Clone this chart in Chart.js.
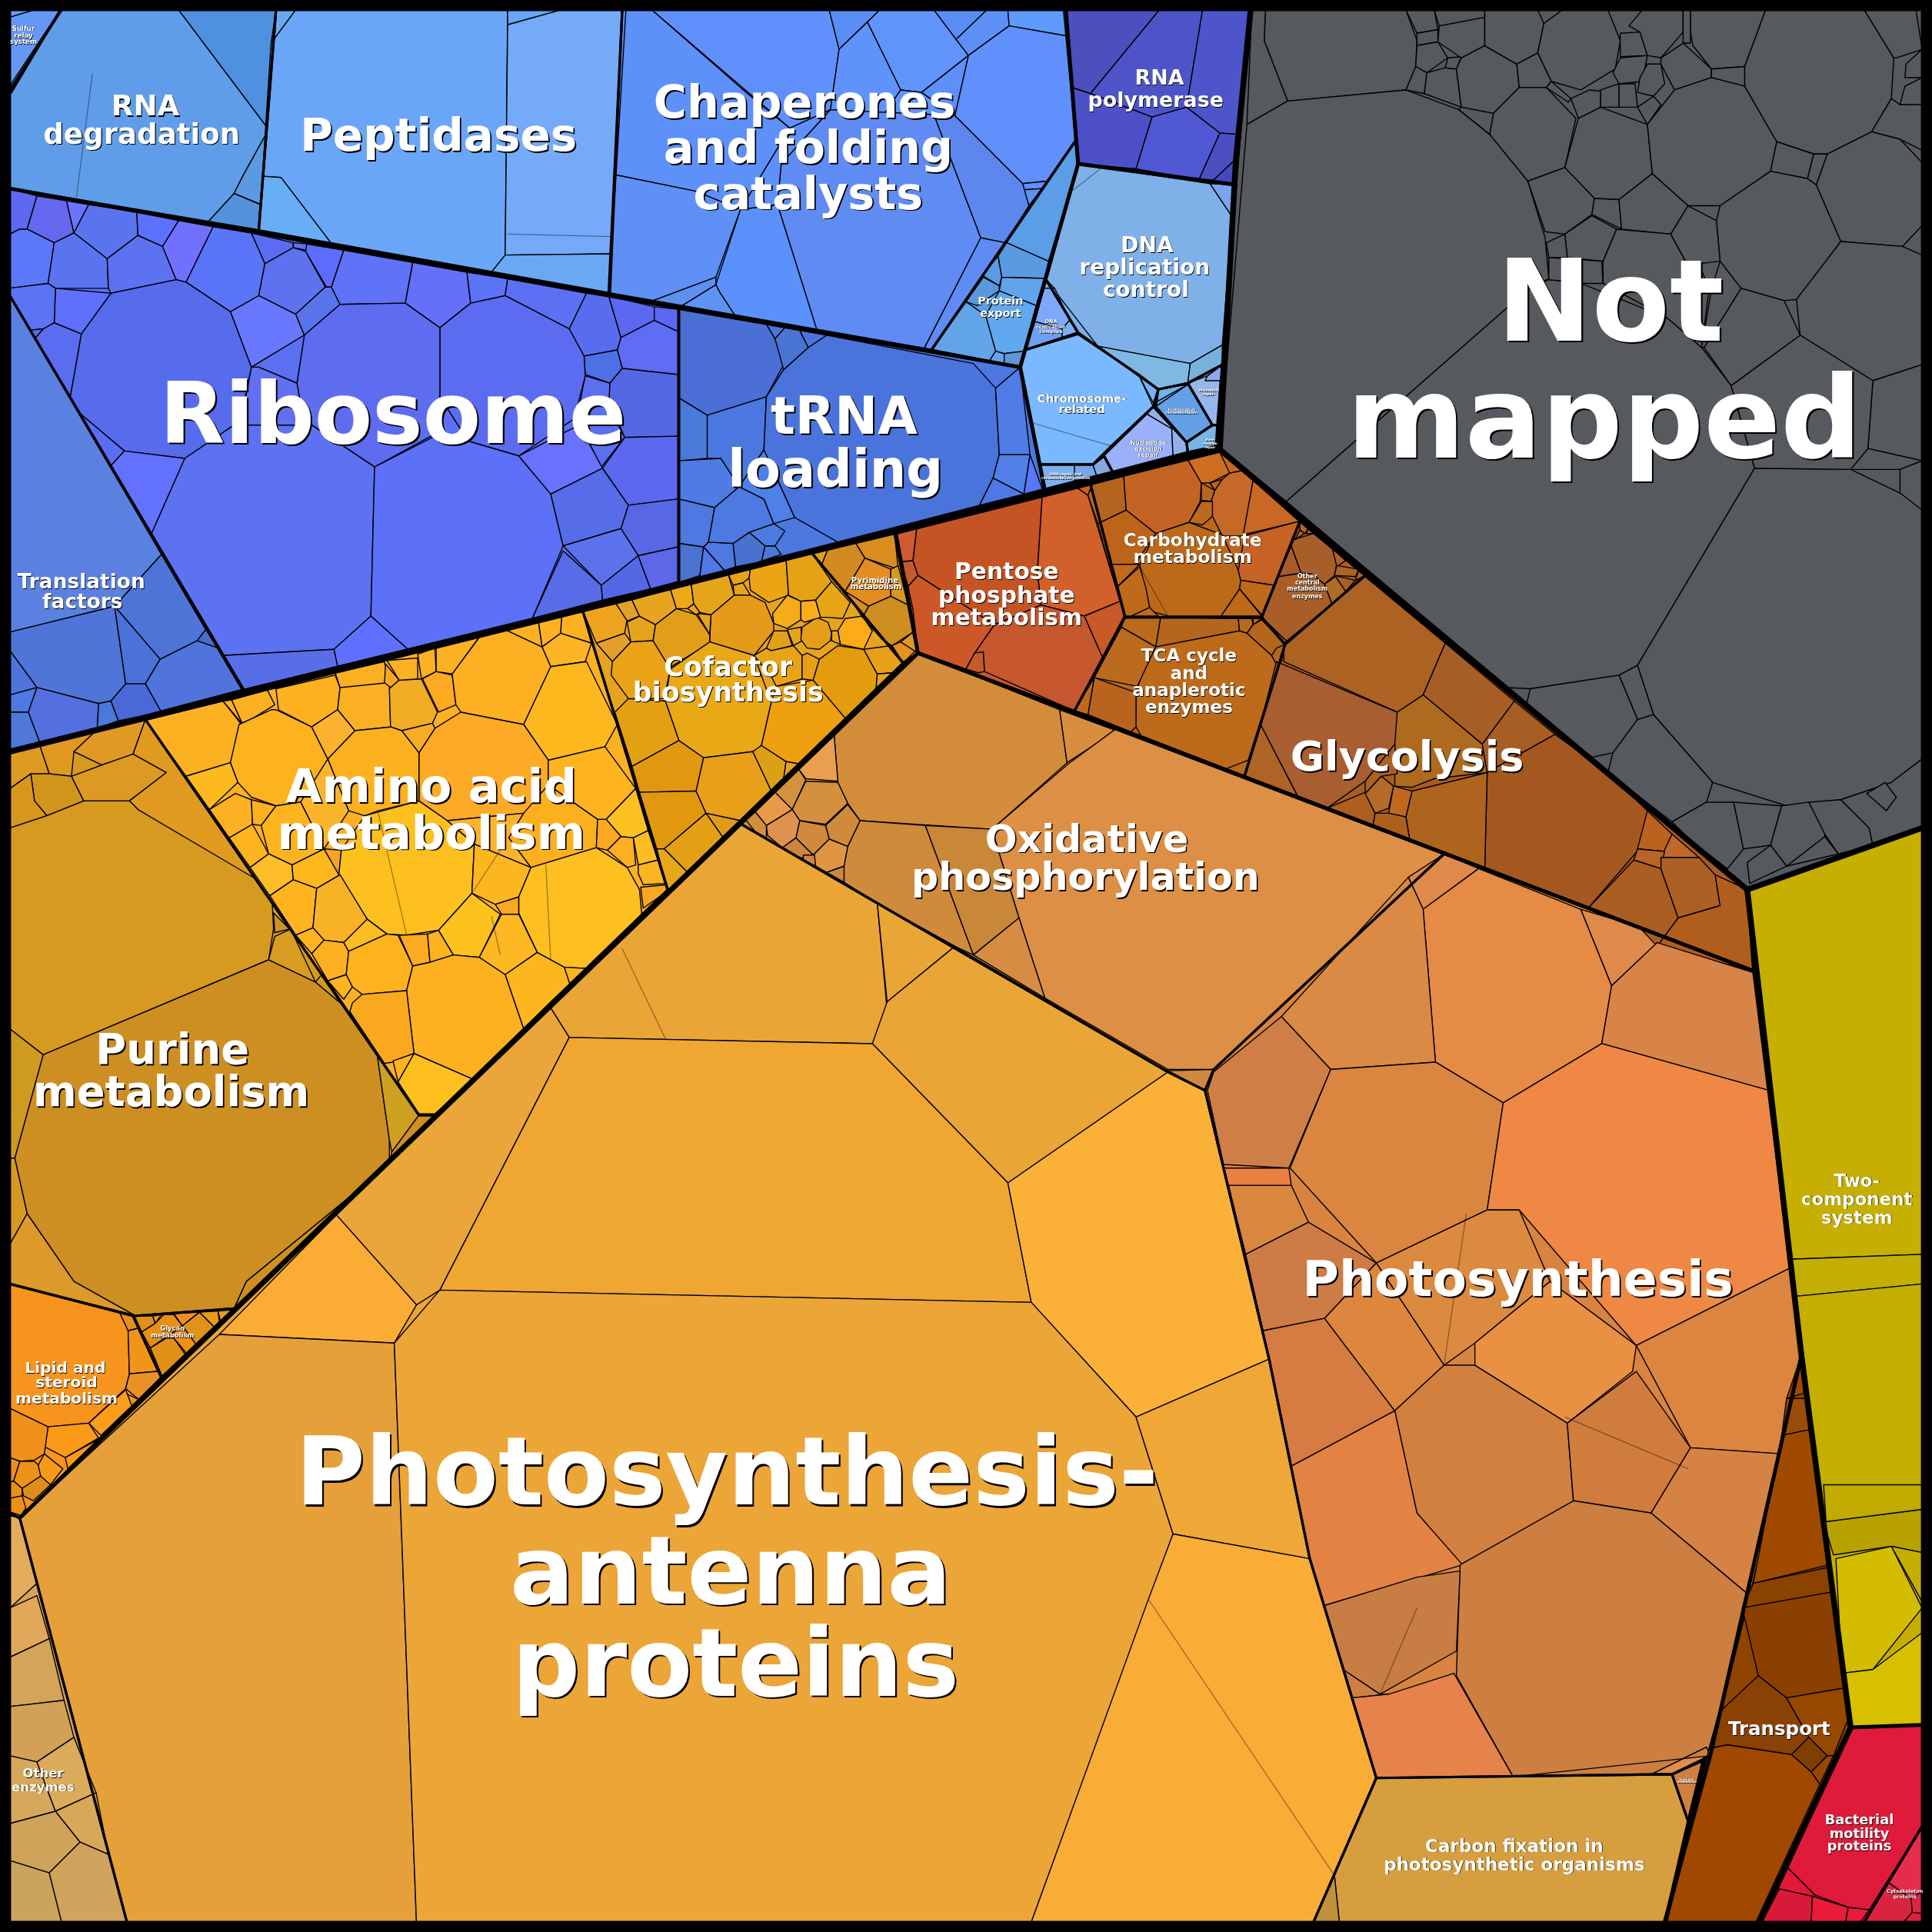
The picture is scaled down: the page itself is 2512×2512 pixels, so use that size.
<!DOCTYPE html>
<html>
<head>
<meta charset="utf-8">
<title>Proteomap</title>
<script src="https://cdn.jsdelivr.net/npm/chart.js@4"></script>
<style>
html, body { margin: 0; padding: 0; background: #000; }
canvas { display: block; }
</style>
</head>
<body>
<canvas id="chart" width="2512" height="2512"></canvas>
<script>
// Cell outlines as x,y runs (picture is 1568 units wide on these axes)
const notMappedCells = [
  [1027,8,1141,8,1150,33,1149,54,1141,73,1045,82,1026,33],[1016,8,1027,8,1026,33,1045,82,1012,101],
  [1012,101,1045,82,1141,73,1184,89,1209,109,1240,147,1254,193,1257,226,1240,235,1044,407,990,364],
  [1044,407,1240,235,1257,227,1283,230,1353,258,1381,282,1405,313,1424,380,1329,540,1314,548,1242,559,1223,558],
  [1424,380,1502,381,1550,404,1560,414,1560,616,1535,635,1494,649,1450,654,1390,635,1342,580,1329,540],
  [1314,548,1329,540,1342,580,1329,584],[1242,559,1314,548,1329,584,1309,611,1290,615,1239,571],
  [1329,584,1342,580,1390,635,1385,651,1357,667,1305,627,1309,611],[1357,667,1385,651,1407,651,1415,689,1402,705,1372,682],
  [1407,651,1446,654,1437,686,1415,689],[1446,654,1468,651,1481,672,1481,679,1450,703,1437,686],[1418,700,1437,686,1450,703,1420,717],
  [1468,651,1494,649,1517,672,1520,686,1492,693,1481,677],[1450,703,1481,679,1492,693],[1494,649,1535,635,1560,616,1560,672,1520,686,1517,672],
  [1515,644,1530,635,1539,647,1531,658],[1141,8,1164,8,1167,24,1150,27],[1150,27,1167,24,1167,34,1150,37],
  [1150,37,1167,34,1175,47,1158,59,1149,54],[1149,54,1158,59,1156,76,1141,73],[1158,59,1173,55,1182,56,1186,87,1156,76],
  [1175,47,1186,46,1182,56,1173,55],[1168,21,1205,14,1205,37,1186,47,1167,34],[1164,8,1205,8,1205,14,1168,21],
  [1205,37,1231,52,1233,71,1212,92,1186,87,1182,56,1186,47],[1205,8,1248,8,1253,19,1248,43,1231,52,1205,37],
  [1253,19,1268,8,1305,8,1315,33,1311,56,1283,73,1259,66,1248,43],[1248,43,1259,66,1255,71,1233,71,1231,52],
  [1233,71,1255,71,1279,96,1270,136,1240,147,1209,109,1212,92],[1212,92,1209,109,1184,89,1186,87],[1255,71,1259,66,1275,80,1273,83],
  [1281,96,1299,87,1337,101,1341,141,1314,162,1294,161,1270,136],[1275,80,1290,73,1299,74,1299,87,1281,96],[1299,73,1314,68,1314,87,1299,87],
  [1314,68,1327,68,1329,87,1314,87],[1329,87,1342,78,1348,85,1337,101],[1315,47,1337,45,1333,66,1314,68,1309,59],
  [1337,52,1348,52,1351,68,1342,78,1329,75,1331,63],[1315,27,1331,26,1337,45,1315,46],[1322,21,1333,8,1366,8,1366,26,1348,47,1337,45,1331,26],
  [1348,47,1366,35,1389,56,1389,63,1359,73,1348,52],[1372,26,1372,8,1433,8,1416,54,1389,56,1374,37],[1366,8,1372,8,1372,35,1366,35],
  [1389,56,1416,54,1416,70,1389,63],[1337,101,1359,73,1389,63,1416,70,1442,115,1437,139,1396,167,1370,167,1341,141],
  [1433,8,1513,8,1537,47,1535,80,1519,107,1483,125,1472,125,1442,115,1416,70,1416,54],[1513,8,1555,8,1560,40,1539,47,1537,47],
  [1547,52,1560,40,1560,63,1546,63],[1546,70,1560,63,1560,85,1542,85],[1535,80,1542,85,1560,85,1560,122,1542,113,1519,107],
  [1519,107,1542,113,1560,132,1560,183,1544,200,1494,196,1474,150,1483,125],[1442,115,1472,125,1467,145,1437,139],[1472,125,1483,125,1474,150,1467,145],
  [1396,167,1437,139,1467,145,1474,150,1494,196,1459,243,1448,244,1413,234,1396,212,1393,179],
  [1494,196,1544,200,1560,207,1560,296,1520,309,1461,272,1458,243],[1520,309,1560,296,1560,374,1516,364],[1516,364,1560,374,1542,381,1502,381],
  [1542,381,1560,374,1560,414,1542,400],[1405,313,1461,272,1520,309,1516,364,1502,381,1424,380],[1383,282,1413,234,1448,244,1461,272,1405,313],
  [1240,147,1270,136,1294,161,1292,174,1270,190,1254,188],[1294,161,1314,162,1316,186,1292,174],[1314,162,1341,141,1370,167,1356,190,1316,186],
  [1270,190,1292,175,1312,186,1301,212,1272,209],[1255,197,1270,190,1272,209,1257,209],[1257,227,1288,230,1301,230,1300,212,1257,209],
  [1312,186,1356,190,1368,212,1379,214,1387,235,1381,282,1353,258,1301,230,1301,212],[1356,190,1370,167,1393,179,1396,212,1379,214,1368,212],
  [1396,212,1413,234,1383,282,1381,282,1389,235]
];
const notMappedFills = ['#56595d'];

const topBlueCells = [
  [8,8,28,8,8,14],[8,14,28,8,49,8,9,68,8,68],[8,68,9,68,9,75,8,75],
  [50,8,145,8,218,105,197,143,190,157,168,181,8,153,8,73],[145,8,224,8,218,105],[218,105,222,100,212,166,190,157,197,143],[190,157,211,166,210,187,168,181],
  [224,8,240,8,220,35],[240,8,412,8,410,207,398,222,270,199,228,144,213,143,220,35],[228,144,270,199,210,189,213,143],
  [412,20,455,8,505,8,497,206,410,207],[410,207,497,206,494,238,398,222],[412,8,455,8,412,20],
  [508,8,529,8,602,72,641,104,601,170,564,155,500,142],[529,8,673,8,681,40,674,89,641,104],[673,8,714,8,681,40],
  [714,8,758,8,786,45,748,75,731,73,704,18],[704,18,731,73,718,92,674,89,681,40],[731,73,748,75,775,94,718,92],[786,45,775,94,748,75],
  [758,8,801,8,776,32],[801,8,818,8,819,21,786,45,776,32],[818,8,863,8,865,29,819,21],[819,21,865,29,873,114,850,147,830,149,775,94,786,45],
  [830,149,850,147,846,153,831,154],[831,154,846,153,835,167],[674,89,758,93,796,193,750,283,663,268,631,166,634,133],
  [758,93,775,94,830,149,835,167,816,197,796,193],[796,193,816,197,756,284,750,283],[500,142,564,155,601,170,581,225,530,244,494,238],
  [601,170,631,166,663,268,597,257,584,237,581,231],[581,231,584,237,597,257,552,249],[530,244,581,225,581,231,552,249],[641,104,674,89,634,133,631,166,601,170],
  [873,115,875,133,851,212,817,197],[817,197,851,212,848,226,813,225,810,208],[810,208,813,225,811,232,798,224,803,216],[813,225,848,226,841,248,811,236],
  [798,225,811,232,811,236,793,248,784,245],[811,236,841,248,831,285,815,287,808,285,800,256],[784,245,800,256,808,285,803,293,756,284],
  [808,285,815,287,815,295,803,293],[815,287,831,285,828,297,815,295],
  [865,8,941,8,885,76,870,71],[941,8,976,8,963,87,935,95,885,76],[976,8,1015,8,1005,109,990,108,963,87],[870,71,885,76,935,95,922,137,875,133],
  [935,95,963,87,990,108,973,146,922,137],[990,108,1005,109,1003,129,985,146,973,146],[1003,129,1003,150,985,147,985,146]
];
const topBlueFills = [
  '#6a9df5','#6597f5','#5a90e8','#5f9de8','#5090e0','#5b9ae0','#5592dc','#6aa8f0','#6aa6f8','#68aef5','#75aaf8','#6ba8f2','#6aa6f8',
  '#5e90fa','#6090fb','#5a8ef6','#6094fb','#5f93fb','#6094f9','#5e90fa','#5a8ef6','#5c90f6','#5e9afb','#6090fb','#5f90fb','#5f90f0','#5f8bf2',
  '#5c88ee','#5e8cf4','#5e90f5','#5a91fb','#5c94f4','#5e90f0','#5e90fb',
  '#5b9de6','#5a9ae0','#5a9ae2','#60a4ee','#5a98de','#62a8ee','#62a4e8','#62a4ea','#5e96d8',
  '#4d4fbf','#4e54c8','#4e55ca','#4d50c6','#5058d4','#4b4fc0','#4548c0'
];

const dnaCells = [
  [875,133,982,149,1000,176,992,280,966,295,891,281,849,227],[982,149,1003,150,1000,176],[891,281,966,295,964,311,940,316],[966,295,992,280,992,296,964,311],
  [849,227,856,234,847,234],[847,234,856,234,868,260,862,267,840,261],[840,261,862,267,862,274,832,284],[862,267,868,260,875,270,862,274],
  [832,284,875,271,924,304,936,330,902,362,887,377,844,377,828,298],[924,304,940,316,936,327],[940,316,964,312,937,327],
  [964,312,984,345,963,359,938,330],[964,311,980,305,991,297,988,345,984,345],[980,305,991,297,991,309,978,309],[963,359,984,345,988,345,987,362,964,367],
  [931,336,951,348,952,370,903,383,896,370],[936,330,963,359,964,367,952,370,951,348,931,336],
  [844,377,887,377,890,386,848,397],[872,377,887,377,890,386,872,391],[887,377,896,370,903,383,890,386]
];
const dnaFills = ['#7fb0e8','#7aa5ee','#80b8e4','#7ab0dc','#7fb0e8','#7ea8fa','#6da0f4','#7ab0f4','#7ab9ff','#76b4f8','#76b4e8','#649fe8','#96b6ec','#8aa8ee','#78b4e4','#9ab0fa','#92b0ea','#7eb0ee','#78a6e6','#84a8e0'];

const trnaCells = [
  [551,250,622,263,629,275,636,296,622,322,574,337,551,323],[551,323,574,337,574,372,551,374],[551,374,585,372,600,395,580,412,551,405],
  [551,405,580,412,575,440,571,444,551,441],[551,441,571,444,568,467,551,473],[575,440,595,441,597,460,588,463,571,444],[571,444,588,463,568,468],
  [595,441,608,432,621,443,618,456,597,460],[621,443,629,443,634,450,616,456,618,456],[608,432,628,425,637,431,629,443,621,443],
  [600,395,620,405,628,425,608,432,595,441,575,440,580,412],[574,337,622,322,620,365,600,395,585,372,574,372],[620,365,645,420,628,425,620,405,600,395],
  [636,300,656,282,671,272,790,295,808,315,811,369,806,388,795,410,680,440,645,420,620,365,622,322],
  [622,263,637,266,629,275],[637,266,649,268,656,282,636,300,629,275],[649,268,671,272,656,282],
  [808,315,828,298,836,369,811,369],[811,369,836,369,831,401,806,388],[806,388,831,401,795,410],[836,369,846,397,831,401]
];
const trnaFills = ['#4c6fd6','#4a7ada','#4f7ce4','#4f78e0','#4a74d0','#4f78e0','#5078e8','#4a70d0','#4a78d8','#4c7ce0','#4c7ae0','#4a78e0','#4f80e8','#4a74dc','#4c74d8','#4a74d4','#4c74e0','#4f7ce6','#5080e8','#4f78e2','#5878f8'];

const ribosomeCells = [
  [8,153,30,159,22,186,16,186,8,190],[30,159,54,163,60,189,44,197,22,186],[54,163,72,166,60,189],[8,190,16,186,22,186,44,197,39,230,8,234],
  [72,166,111,172,112,191,87,210,60,189],[44,197,60,189,87,210,88,234,45,234,39,230],[87,210,112,191,132,200,143,227,90,238,88,234],[111,172,145,179,132,200,112,191],
  [145,179,173,184,151,229,143,227,132,200],[173,184,204,189,215,214,210,240,187,253,151,229],[204,189,238,197,238,201,215,214],[238,197,251,198,248,203,238,201],
  [249,198,279,203,269,233,265,233,248,204],[215,214,238,201,248,204,264,233,240,255,210,240],[187,253,210,240,240,255,247,272,204,298],[240,255,264,233,269,233,276,247,247,272],
  [279,203,335,213,329,246,276,247,269,233],[335,213,379,221,382,246,357,266,329,246],[379,221,412,226,410,240,382,246],[412,226,476,238,462,267,410,240],
  [476,238,494,240,504,274,501,284,474,289,462,267],[494,240,531,249,531,260,504,274],[531,249,550,251,550,269,531,260],[504,274,531,260,550,269,550,304,505,299,501,284],
  [474,289,501,284,505,299,495,311,475,304],[495,311,505,299,550,304,550,354,507,355,494,325],[475,305,495,311,494,330,507,355,488,379,480,363,468,340],
  [357,266,382,246,410,240,462,267,474,289,475,305,466,340,421,370,380,358,357,322],[247,272,276,247,329,246,357,266,357,350,304,379,253,345,244,328,241,311],
  [204,298,247,272,241,311,210,298],[204,298,210,298,241,311,244,328,253,345,190,345,200,320],
  [143,227,151,229,187,253,204,298,199,322,190,345,150,372,101,366,63,334,57,322,66,271,90,238],[45,234,90,238,66,271,44,262],
  [7,234,39,230,45,234,44,262,35,267,23,268,7,240],[44,262,66,271,57,322,28,275,35,267],[23,268,35,267,28,275],[63,334,101,366,90,378],[101,366,150,372,123,433,90,378],
  [150,372,190,345,253,345,304,379,301,500,271,527,181,532,123,433],[304,379,351,355,380,358,421,370,447,401,457,443,432,502,331,527,301,500],
  [271,527,301,500,331,527,274,541],[181,532,271,527,274,541,197,560],[421,370,470,345,489,380,447,401],[447,401,489,380,510,410,504,429,457,443],
  [489,380,507,355,550,354,550,405,510,410],[510,410,550,405,550,444,518,451,504,429],[457,443,504,429,518,451,488,475],[457,447,488,475,489,487,432,502],
  [488,475,518,451,528,478,489,487],[518,451,550,444,550,472,528,478]
];
const ribosomeFills = [
  '#6068f0','#6468ee','#6a74ff','#5c78f8','#5a74f0','#5a74f0','#5c72f0','#5c72ff','#7072ff','#5a74f8','#5a6cf0','#6070f0','#5c6cff','#5d72ee','#6878ff','#5874ea',
  '#5f72f8','#6470fa','#5c74f8','#5c70f4','#5a6cee','#5c68f0','#5c68f4','#5e6cf6','#4c70e6','#5468e4','#5a70f0','#5c6cf0','#5e6cf0','#5a70f0','#6070f0','#566cec','#5f70fc',
  '#5a74f4','#5a6cf0','#5a70e8','#5c6cf4','#6272ff','#5d72f0','#5c70f8','#5f70ff','#586ee8','#6872ff','#566ce8','#5c68f0','#5868e4','#5c72ec','#586ce8','#5468e6','#5c68e8'
];

const translationCells = [
  [8,240,131,450,93,492,8,513],[131,450,167,511,160,520,130,535,93,492],[8,513,93,492,102,555,90,569,80,571,30,558,8,528],[93,492,130,535,118,555,102,555],
  [160,520,167,511,177,526],[130,535,160,520,177,526,197,560,131,578,118,555],[8,528,30,558,8,564],[8,564,30,558,23,578,8,578],[30,558,80,571,79,591,32,602,23,578],
  [8,578,23,578,32,602,8,610],[90,569,102,555,118,555,131,578,96,585],[80,571,90,569,96,585,79,591]
];
const translationFills = ['#5a80e0','#4f74d8','#4f75d8','#4a72d8','#4a6ccc','#5074dc','#4f74dc','#4f78e0','#5470e0','#5078d8','#4a68d8','#4a7ad8'];

const aminoCells = [
  [118,584,181,569,196,588,187,619,151,630],[181,569,188,568,197,588],[188,568,217,560,223,572,197,588],
  [194,588,220,576,224,576,253,590,266,616,261,634,244,651,224,654,204,647,193,635,187,619],[224,559,272,548,276,558,274,576,253,590,226,576],
  [272,546,312,537,316,558,276,558],[276,558,316,554,317,590,288,593,274,576],[313,539,324,552,317,558,312,554],[316,559,324,552,342,551,355,578,351,587,326,593,317,590],
  [314,536,339,534,339,551,324,552],[339,531,353,526,354,545,342,551],[343,551,354,545,367,548,370,572,356,578],[354,526,389,517,367,547,354,545],
  [367,547,390,516,410,511,440,525,447,541,425,588,374,578,370,572],[390,516,437,505,440,525,410,511],[437,504,456,500,455,514,440,525],[456,500,473,496,480,522,455,514],
  [440,525,455,514,480,522,475,537,447,541],[447,541,476,537,501,588,491,606,445,617,425,588],
  [374,578,425,588,445,617,445,644,425,660,363,666,340,650,340,611,353,591],[326,593,351,587,353,591,340,611],
  [288,593,317,590,326,593,340,611,340,650,307,658,296,662,283,658,266,616],[253,590,274,576,288,593,266,616],[244,651,266,616,283,658,263,689],
  [151,630,187,619,193,635,170,657],[170,657,191,644,204,649,205,669,186,680],[204,649,224,654,212,670,205,669],[186,680,205,669,218,693,203,704],
  [224,654,244,651,263,689,237,702,218,693,212,670],[203,704,218,693,237,702,238,714,219,727],[237,702,263,689,276,710,257,721,238,714],[263,689,277,690,275,710],
  [277,690,296,662,340,650,363,666,385,685,383,725,356,755,330,759,314,758,298,746,275,710],[219,727,238,714,257,721,254,753,240,759],
  [257,721,276,710,298,746,279,765,263,763,254,753],[240,759,254,753,263,763,253,774],[253,774,263,763,279,765,283,772,281,791,266,796],[279,765,298,746,314,758,283,772],
  [283,772,314,758,323,759,335,784,330,804,294,807,286,801,281,791],[324,759,347,758,349,781,335,784],[347,758,356,755,368,775,349,781],[356,755,383,725,406,742,389,777,368,775],
  [383,725,385,685,431,704,421,728,402,734],[363,666,425,660,413,680,431,704,385,685],[445,617,491,606,516,640,492,665,485,665,445,637],[425,660,445,637,485,665,484,688,431,704,413,680],
  [492,665,516,640,526,674,514,680,504,679],[485,665,492,665,504,679,493,690,484,688],[493,690,504,679,514,680,516,702,509,704],[514,680,526,674,534,698,518,702],
  [518,702,534,698,542,717,522,718,518,709],[520,720,542,718,542,723,522,737],[431,704,484,688,509,704,519,722,521,744,477,786,458,785,436,773,421,741,421,728],
  [402,734,421,728,421,742,407,742],[407,742,421,742,436,773,410,791,389,777],[410,791,436,773,458,785,463,800,425,835],[458,785,477,786,463,800],
  [335,784,349,781,368,775,389,777,410,791,425,835,384,876,336,855,330,804],[294,807,330,804,336,855,319,862,312,863,284,821,286,814],[266,796,281,791,286,801,279,811],
  [336,855,384,876,353,904,340,904,323,878],[319,861,336,855,323,878]
];
const aminoFills = [
  '#fbb122','#fbb122','#fbb122','#fdb31e','#fdb11e','#fbb022','#fbb023','#f8a820','#f2ab25','#fbb122','#fbb022','#fdaa22','#fbb122','#fdb021','#fbb122','#fbb122','#fbb122','#fdb425','#fdb81e',
  '#fdaa26','#f6ad25','#fcb21e','#fbb22e','#fbb52a','#fdb91e','#fbb122','#fbb022','#fdb41e','#fdb41e','#fdbd28','#fdb81e','#f5a526','#fdc01e','#fdb41e','#f8b225','#fdb41e','#fbb022','#fdbd20',
  '#fdb21e','#fbaa22','#fcb31e','#fdc21e','#fdb71e','#fdb32a','#fdb41e','#fdb01e','#fdc022','#faa822','#fbb022','#fdbd22','#fbb422','#faa822','#fdc020','#f8a822','#fdb822','#fdb71e','#fdb71e',
  '#fdb121','#faa91e','#fdb41e','#fdc01e','#fdb41e'
];

const cofactorCells = [
  [473,496,500,490,509,502,507,514,484,522],[484,522,507,514,512,521,497,537],[500,490,512,487,513,487,519,500,509,504],[509,505,519,500,532,507,530,520,512,521],
  [513,487,544,478,549,494,532,507,519,500],[544,478,561,474,563,490,558,494,549,494],[558,494,563,490,568,497,565,499],[561,474,591,466,596,483,577,499,568,497,563,490],
  [591,466,609,462,608,469,603,473,595,475],[595,475,603,473,609,483,596,483],[609,462,638,455,640,483,624,489,609,479,608,469],[638,454,659,449,675,472,662,487,650,488,640,483],
  [577,499,596,483,609,483,621,489,628,506,628,512,612,532,576,521],[532,507,549,494,565,499,576,515,576,522,543,542,530,520],[566,498,577,499,576,515],
  [497,537,512,521,530,520,544,543,539,567,510,567,496,548],[544,543,576,521,612,532,626,570,618,605,611,610,571,615,551,601,540,569],[499,578,510,567,540,569,551,601,513,622],
  [513,622,551,601,571,615,565,642,519,643],[519,643,565,642,573,660,539,689,533,689],[571,615,611,610,626,642,601,666,573,660,565,642],[611,610,618,605,638,618,636,632,626,642],
  [638,618,649,620,636,632],[618,605,626,570,630,557,660,552,687,584,649,620,638,618],[573,660,601,666,587,680],[539,689,573,660,587,680,558,708],[533,689,539,689,558,708,548,718,542,723],
  [612,532,622,526,626,528,644,524,651,532,651,551,630,557,626,549],[651,532,655,530,665,535,660,552,651,551],[660,552,665,535,680,524,701,527,712,547,711,560,687,584],
  [701,527,723,524,733,538,725,546,712,547],[712,547,725,546,711,560],[628,512,639,512,643,524,626,528,622,526],[639,511,650,509,651,520,644,524],
  [651,509,663,501,672,505,675,514,674,520,665,527,655,526,650,519],[627,498,639,483,650,488,650,503,639,510,628,506],[650,488,662,487,666,501,653,505,650,503],
  [662,487,675,472,690,489,684,502,671,501,666,501],[680,512,686,502,700,500,708,512,701,527,682,523],[675,512,680,512,682,523,675,520]
];
const cofactorFills = [
  '#eea31e','#e2a02a','#e2a02a','#e6a41e','#e8a41e','#eca818','#eca820','#e5a51a','#e6a418','#e8a418','#eca415','#e4a315','#e69a1a','#e29e18','#e6a41e','#eaa316','#e9a816','#e2a012','#e2980e',
  '#e2980e','#e8a01a','#dc9f18','#e6a41e','#eea010','#e09b18','#e4a014','#e6a818','#e8a316','#e6a018','#e29c0e','#e8a018','#e8a418','#e4a018','#e4a41e','#e69e1a','#f4ac18','#fbae15','#e6a615','#fbac18','#e8a818'
];

const pyrimidineCells = [
  [667,458,672,445,694,440,702,453,686,480],[659,449,672,445,667,458],[694,440,726,433,729,462,702,453],[702,453,723,462,723,484,705,492,686,480],[723,462,729,459,737,491,723,484],
  [705,492,723,484,737,491,741,513,724,524,716,519,700,501],[724,524,731,521,743,528,733,538],[731,521,741,513,745,530],[686,480,705,492,700,501]
];
const pyrimidineFills = ['#d48a22','#e0a018','#d98d1e','#e38d20','#d9971e','#cf8e20','#e5921e','#e0981e','#d98d1e'];

const purineCells = [
  [8,610,32,604,40,628,25,628,8,640],[32,604,79,592,60,610,58,630,40,628],[25,628,40,628,58,630,68,650,38,662,28,650],[60,610,79,592,118,584,108,612,85,622],
  [58,630,85,620,108,612,135,627,105,650,68,650],[8,640,25,628,28,650,38,662,8,672],[108,612,118,584,207,713,150,682,112,657,105,650,135,627],
  [8,672,38,662,68,650,105,650,112,657,207,713,221,734,222,754,218,779,35,856,8,835],
  [35,856,218,779,256,797,281,818,306,855,316,925,316,945,200,1040,190,1062,110,1068,60,1040,22,985,12,940],
  [8,835,35,856,12,940,8,940],[8,940,12,940,22,985,8,1010],[8,1010,22,985,60,1040,110,1068,8,1042],[218,779,223,760,236,754,256,797],[222,741,235,754,223,757],[256,797,262,790,281,818],
  [306,855,340,905,318,935,316,925],[316,945,318,935,340,905,353,905,190,1062,200,1040]
];
const purineFills = ['#dc9a20','#e09820','#d0961c','#e09a24','#dc9a22','#d8961c','#e09a20','#d69a20','#ce8f22','#cf9a20','#d69a22','#dc9a2a','#d89c20','#cc9420','#d09a1e','#cda020','#cf9020'];

const glycanCells = [
  [109,1068,124,1068,126,1074,115,1081],[124,1068,131,1067,126,1074],[126,1074,133,1067,141,1067,148,1076,122,1094,115,1081],[141,1066,162,1065,148,1076],[148,1076,162,1065,174,1077,159,1091],
  [162,1065,177,1064,178,1073,174,1077],[177,1064,189,1063,179,1073],[135,1086,148,1076,159,1091,152,1099,141,1086],[122,1094,135,1086,141,1086,151,1100,132,1118]
];
const glycanFills = ['#e09018','#e69a1a','#e69018','#ea9024','#e0921a','#e69a1a','#e89a20','#f29014','#e29018'];

const lipidCells = [
  [8,1042,86,1062,97,1065,104,1080,105,1115,102,1127,72,1155,39,1158,8,1143],[97,1065,108,1068,112,1078,104,1080],[104,1080,112,1078,128,1113,105,1115],[105,1115,128,1113,131,1118,113,1136,102,1127],
  [100,1130,113,1136,107,1141],[102,1128,107,1141,82,1165,72,1155],[39,1158,72,1155,80,1167,53,1183,36,1174],[53,1183,80,1168,55,1192],[8,1143,39,1158,36,1180,28,1185,16,1186,8,1183],
  [36,1180,51,1192,41,1205,32,1198,31,1189],[16,1186,28,1186,31,1189,33,1198,18,1208,11,1202],[18,1208,33,1198,41,1205,27,1218,19,1214],[8,1183,16,1186,11,1202,8,1203],
  [8,1203,11,1202,18,1208,18,1214,8,1216],[8,1216,18,1214,21,1224,17,1230,8,1227]
];
const lipidFills = ['#f7941e','#e68f1e','#f09518','#ea9024','#ef9620','#fb9c1a','#fa9a18','#fa9a18','#f0901a','#f89a18','#ed9218','#e08c18','#ea9020','#e89018','#ee9018'];

const pentoseCells = [
  [727,433,744,429,741,455,731,456],[731,456,741,455,745,467,737,476],[744,429,846,400,842,464,845,491,807,507,745,467,741,455],[846,400,873,395,883,402,909,488,880,500,845,491,842,464],
  [880,500,909,488,913,500,895,534],[807,507,845,491,880,500,895,534,872,577,799,545,798,530,791,530],[737,476,745,467,807,507,791,530,784,543,745,529,741,495],[791,530,798,529,799,545,794,546,784,543],
  [873,395,887,392,883,402]
];
const pentoseFills = ['#d05a32','#c45a30','#c45424','#d2602a','#c75a28','#c6572e','#cc5828','#c65a2a','#c8601e'];

const carbohydrateCells = [
  [887,392,912,386,914,414,891,425,883,402],[912,386,964,373,975,392,974,407,965,424,938,433,914,414],[964,373,990,367,998,379,998,384,982,392,975,392],[990,367,1008,382,998,384],
  [982,392,992,389,986,398],[975,392,986,398,983,407,975,406],[998,384,1008,382,1017,390,1009,435,992,435,984,419,983,407,986,398,992,389],[1017,390,1055,423,1009,434],
  [975,407,984,407,984,419,976,426,965,424],[891,425,914,414,938,433,921,458,900,458],[938,433,965,424,992,434,1005,463,1007,471,1006,478,991,500,948,500,934,496,929,477,925,458],
  [1010,435,1055,423,1034,475,1007,471,1005,463],[1007,471,1034,475,1024,499,1006,478],[1006,478,1024,500,991,500],[900,458,925,458,906,477],[906,477,925,460,930,477,933,493,918,500,913,500],[918,500,933,493,940,500]
];
const carbohydrateFills = ['#b56420','#c46424','#cd6e22','#c46a22','#bd6420','#b56820','#c66828','#c96824','#bd6a20','#bd641a','#bc6a1a','#c66226','#bf6a1a','#be6a1a','#c06a1a','#bf6a1a','#c26a1a'];

const otherCentralCells = [
  [1024,501,1037,468,1056,465,1065,466,1075,474,1081,490,1045,521],[1037,468,1048,443,1056,465],[1048,443,1050,438,1066,433,1081,444,1085,457,1083,467,1075,474,1065,466,1056,465],
  [1051,438,1055,430,1059,433],[1055,423,1062,429,1059,433,1055,430],[1062,429,1067,433,1060,433],[1081,444,1092,455,1085,460],[1085,459,1103,462,1100,468,1083,467],[1083,467,1100,471,1092,480,1084,470],
  [1075,474,1084,468,1092,480,1081,490],[1103,462,1108,467,1100,471]
];
const otherCentralFills = ['#a95e28','#a85a2a','#a85e28','#ac6228','#b4642a','#ac6228','#ae6228','#ab6424','#a86028','#b06a28','#b06428'];

const tcaCells = [
  [913,501,942,501,938,525,910,509],[942,501,1005,502,1006,512,938,525],[1005,502,1016,502,1017,507,1012,514,1006,512],[1017,502,1024,502,1017,507],[1017,507,1024,503,1043,523,1032,532,1012,514],
  [1032,532,1036,526,1043,523,1040,537,1036,540],[938,525,1006,512,1012,514,1032,532,1037,541,1013,617,995,624,926,597,919,590,922,582,922,562,929,541],[910,509,938,525,923,557,888,550],
  [888,550,922,562,922,590,918,594,883,580],[888,550,883,580,872,577],[918,594,922,590,926,597]
];
const tcaFills = ['#b96a1c','#b5661e','#b86a1c','#b86a1c','#b4661c','#b4661c','#bd6a1a','#bc6a1e','#b8641e','#be6a1a','#b4661c'];

const glycolysisCells = [
  [1042,522,1108,468,1173,522,1155,564,1134,578,1042,537],[1173,522,1229,569,1203,604,1155,564],[1036,537,1134,578,1134,602,1132,604,1108,634,1077,656,1053,646,1023,588],[1010,630,1023,588,1053,646],
  [1134,578,1155,564,1203,604,1207,627,1164,632,1146,639,1132,638,1132,604],[1207,627,1262,596,1229,569,1203,604],[1207,627,1262,596,1305,627,1337,658,1333,686,1289,737,1205,705],
  [1146,642,1207,627,1205,705,1144,681,1141,663],[1077,656,1108,643,1116,660,1114,672],[1108,644,1121,630,1131,638,1127,656,1116,660],[1131,638,1146,642,1141,663,1127,660],[1116,660,1127,660,1141,663,1144,681,1114,672],
  [1108,634,1132,604,1134,628,1121,630,1108,644],[1337,658,1357,677,1351,691,1329,689],[1357,677,1379,696,1348,696],[1329,689,1351,691,1348,705,1326,698],[1289,737,1326,698,1348,705,1362,745,1345,768],
  [1348,696,1379,696,1392,710,1396,735,1362,745,1348,705],[1392,710,1418,722,1423,788,1345,768,1362,745,1396,735]
];
const glycolysisFills = ['#ac6222','#a65e26','#a85e30','#ad6424','#ae6a1e','#a65e24','#a4581f','#ad641e','#ae5e1e','#b46a28','#c0681e','#ad5f1e','#ac6028','#bb621e','#c0682a','#b86424','#ab5e22','#ad6024','#b05e1e'];

const oxidativeCells = [
  [745,530,860,576,866,619,805,673,698,666,688,652,680,635,677,597],[860,576,906,593,866,619],[905,592,1172,693,985,868,948,868,848,810,827,745,805,673,867,620],
  [698,666,751,670,790,775,775,768,712,733,685,716,685,703,688,687],[751,670,805,673,827,745,790,775],[790,775,827,745,848,810],
  [648,624,677,597,680,634,654,632],[626,642,648,624,654,633,643,657],[654,634,680,635,688,652,670,669,649,666,643,657],[688,653,698,666,688,687,673,681,670,670],
  [649,666,670,670,673,681,660,694,646,680],[629,643,643,657,622,670,613,659],[622,670,643,657,649,666,646,680,635,688,623,678],[613,659,622,670,622,680,613,675,605,665],
  [635,688,646,680,660,694,653,696,642,697],[660,694,673,681,688,687,685,703,671,708,662,703],[652,694,661,694,662,703,652,698],[671,708,685,703,685,716],
  [948,869,985,868,978,885]
];
const oxidativeFills = ['#d38d3a','#d78e3e','#dd8f45','#d08a3c','#c98739','#d68c42','#e99f4c','#d2923e','#d4903c','#cf8a3a','#cf8a3e','#e99a48','#df9250','#d28e3e','#cc8540','#e09545','#cf8840','#c98840','#cf8a3e'];

const antennaCells = [
  [445,815,600,668,712,733,720,820,708,847,462,842],[712,733,775,768,720,813],[775,768,948,870,818,960,708,847,720,813],[273,986,445,815,462,842,357,1047,338,1059],
  [462,842,708,847,818,960,837,1057,357,1047],[818,960,948,870,978,885,1030,1103,922,1150,837,1057],[178,1083,273,986,338,1059,320,1090],[16,1232,178,1083,320,1090,338,1560,103,1560],
  [320,1090,357,1047,837,1057,922,1150,952,1245,837,1560,338,1560],[922,1150,1030,1103,1063,1265,952,1245],[952,1245,1063,1265,1117,1443,1066,1560,837,1560,932,1298]
];
const antennaFills = ['#e9a535','#e9a535','#e9a535','#eaa63a','#efa732','#fbb138','#fbac35','#e5a03a','#eca537','#efa737','#f9ad37'];

const photosynthesisCells = [
  [1143,712,1172,693,1200,705,1155,738],[1155,738,1200,705,1283,738,1308,800,1300,847,1220,895,1165,862],[1040,825,1143,712,1155,738,1165,862,1080,868],[985,870,1040,825,1080,868,1046,948,993,945,980,885],
  [1080,868,1165,862,1220,895,1207,982,1117,1025,1047,948],[1283,738,1330,752,1345,768,1308,800],[1345,765,1425,790,1436,885,1300,847,1308,800],[1300,847,1436,885,1455,1028,1328,1092,1233,982,1207,982,1220,895],
  [1207,982,1233,982,1258,1040,1197,1090,1172,1108,1117,1025],[1197,1090,1258,1040,1328,1092,1325,1113,1272,1155,1197,1108],[997,962,1048,962,1062,992,1011,1018],[993,948,1046,948,1048,962,997,962],
  [1011,1018,1062,992,1117,1025,1075,1070,1025,1080],[1025,1080,1075,1070,1132,1145,1048,1190],[1075,1070,1117,1025,1172,1108,1132,1145],[1132,1145,1172,1108,1197,1108,1272,1155,1277,1220,1185,1270,1150,1228],
  [1048,1190,1132,1145,1150,1228,1187,1270,1075,1303,1063,1265],[1328,1092,1455,1028,1462,1100,1447,1180,1372,1175],[1272,1155,1328,1113,1372,1175,1340,1228,1277,1218],[1372,1175,1447,1180,1420,1295,1340,1228],
  [1185,1270,1277,1218,1340,1228,1420,1295,1388,1425,1340,1440,1228,1442,1182,1360],[1075,1303,1150,1280,1185,1275,1182,1340,1120,1375,1090,1355],[1090,1355,1120,1375,1127,1375,1097,1378],[1127,1375,1180,1358,1228,1442,1117,1443,1097,1378],
  [1342,1439,1385,1418,1382,1429,1357,1440],[1228,1442,1340,1440,1342,1439,1385,1418,1388,1425]
];
const photosynthesisFills = [
  '#df8a4a','#e68b45','#da8a44','#cf7f45','#da8640','#dd8a4a','#d88448','#ee8844','#dc8a3f','#e99042','#d9863f','#ea8040','#cd7c45','#d67b41','#dd863e','#d28040','#e38343','#db8540','#d07c3d','#d68244','#cc7f40',
  '#c77d44','#cf7e42','#e5834a','#e08c50','#cc7f40'
];

const fixationCells = [[1117,1443,1357,1440,1370,1478,1351,1560,1087,1560,1083,1522],[1083,1522,1087,1560,1066,1560],[1357,1440,1382,1429,1370,1478]];
const fixationFills = ['#d69e3e','#c0913a','#cf7f3e'];

const transportCells = [
  [1387,1419,1402,1416,1454,1424,1470,1438,1477,1448,1425,1560,1353,1560],[1462,1100,1466,1130,1450,1135],[1450,1135,1467,1135,1470,1160,1446,1165],[1446,1165,1470,1160,1484,1270,1423,1285],
  [1423,1285,1484,1272,1487,1292,1414,1305],[1414,1305,1487,1292,1497,1370,1450,1378,1427,1360],[1387,1419,1395,1390,1427,1360,1450,1378,1468,1410,1454,1424,1402,1416],
  [1450,1378,1497,1370,1500,1395,1488,1425,1483,1425,1468,1410],[1454,1424,1468,1410,1483,1425,1470,1438],[1470,1438,1483,1425,1488,1425,1477,1448]
];
const transportFills = ['#a04800','#a04800','#9a4c08','#a04a00','#8a4200','#8b3f00','#8a4104','#964800','#7f3f00','#9a4600'];

const twoComponentCells = [
  [1418,722,1560,672,1560,1018,1453,1022],[1453,1022,1560,1018,1560,1042,1458,1052],[1458,1052,1560,1042,1560,1205,1480,1235],[1480,1235,1560,1225,1560,1260,1535,1255,1488,1262],
  [1490,1265,1535,1255,1560,1305,1520,1355,1495,1358],[1535,1255,1560,1260,1560,1300],[1520,1355,1560,1325,1560,1400,1502,1402,1495,1358],[1480,1205,1560,1205,1560,1225,1482,1235]
];
const twoComponentFills = ['#c6af00','#c4ae04','#c4ae00','#b8a200','#d4bd00','#c4ae00','#d6c000','#c2aa00'];

const motilityCells = [
  [1502,1402,1560,1400,1560,1482,1517,1550,1500,1548,1473,1538,1451,1516],[1451,1516,1473,1538,1471,1541,1443,1533],[1444,1533,1471,1539,1470,1560,1430,1560],[1471,1539,1500,1548,1498,1560,1470,1560],
  [1500,1548,1517,1550,1510,1560,1498,1560],[1533,1528,1551,1541,1552,1552,1545,1560,1513,1560],[1561,1482,1560,1535,1551,1541,1533,1528],[1552,1552,1560,1553,1560,1560,1545,1560]
];
const motilityFills = ['#df1a3a','#e0183a','#d81a3a','#ea1c3c','#e81c3c','#d8243e','#e62c4c','#e02040'];

const otherEnzymeCells = [
  [8,1230,16,1232,30,1285,8,1305],[8,1305,30,1295,40,1330,8,1345],[8,1345,40,1330,52,1380,8,1385],[8,1385,52,1380,60,1410,30,1430,8,1425],[8,1425,30,1430,45,1470,8,1480],[30,1430,60,1410,78,1455,45,1470],
  [8,1480,45,1470,65,1495,40,1520,8,1510],[45,1470,78,1455,88,1505,65,1495],[8,1510,40,1520,50,1560,8,1560],[40,1520,65,1495,88,1505,103,1560,50,1560]
];
const otherEnzymeFills = ['#e3ac5c','#e0a858','#d4a45a','#d2a057','#d6a85c','#dbab5c','#cfa35a','#d8a858','#cca35c','#d0a45c'];

// Faint lines inside a protein group
const seamLines = [
  [75,60,62,160],[505,770,540,843],[932,1298,1083,1522],[412,190,496,192],[870,155,893,137],[837,343,902,362],
  [307,660,330,759],[443,702,447,779],[383,725,406,690],[399,744,406,775],[1190,985,1172,1108],[1270,1150,1370,1192],[1150,1305,1120,1375],
  [925,460,948,500],[357,322,380,358]
];

// Protein group borders, each with the group colour behind its cells
const groupOutlines = [
  [8,8,49,8,9,75,8,75],[50,8,224,8,210,187,8,153,8,73],[224,8,505,8,495,238,210,187],[505,8,865,8,873,114,756,284,494,238],[873,114,875,133,828,298,756,284],[865,8,1015,8,1003,150,875,133],
  [875,133,1003,150,992,296,964,311,940,316,875,270,849,227],[849,227,875,270,832,284],[832,284,875,271,924,304,940,316,936,330,902,362,887,377,844,377,828,298],[964,311,992,296,988,345,984,345],
  [940,316,964,311,984,345,963,359,938,330],[963,359,984,345,988,345,987,362,964,367],[936,330,963,359,964,367,903,383,896,370,887,377],[844,377,887,377,896,370,903,383,848,397],
  [8,153,551,250,551,473,198,560,8,240],[551,250,828,298,848,398,551,473],[8,240,197,560,8,610],
  [118,584,473,496,542,722,353,905,340,905],[473,496,659,449,733,538,542,723],[659,449,726,433,745,530,733,538],[8,610,118,584,340,905,353,905,190,1062,110,1068,8,1042],
  [108,1068,190,1062,131,1118],[8,1042,108,1068,131,1118,16,1232,8,1228],
  [727,433,885,393,913,500,872,577,745,530],[885,393,990,365,1055,423,1024,501,913,501],[1055,423,1108,467,1043,523,1024,501],[913,501,1024,501,1043,523,1010,630,872,577],[1108,467,1418,722,1423,788,1010,630,1043,523],
  [745,530,1172,693,985,868,978,885,948,870,600,668],[16,1232,600,668,948,870,978,885,1030,1103,1063,1265,1117,1443,1066,1560,103,1560],
  [1172,693,1423,788,1462,1100,1388,1425,1357,1440,1117,1443,1063,1265,1030,1103,978,885,985,868],[1117,1443,1357,1440,1370,1478,1351,1560,1066,1560],[1357,1440,1382,1429,1370,1478],
  [1462,1100,1502,1402,1428,1560,1352,1560,1388,1425],[1418,722,1560,672,1560,1400,1502,1402,1462,1100],[1502,1402,1560,1400,1560,1482,1513,1560,1428,1560],[1560,1482,1560,1560,1513,1560],[8,1228,16,1232,103,1560,8,1560],
  [1015,8,1560,8,1560,672,1418,722,990,365,1003,130]
];
const groupFills = [
  '#6597f5','#5f9de8','#6aa6f8','#5e90fa','#5b9de6','#4e54c8','#7fb0e8','#7ea8fa','#7ab9ff','#96b6ec','#649fe8','#78b4e4','#92b0ea','#7eb0ee','#5c70f4','#4c78e0','#5078d8',
  '#fbb122','#e6a41e','#d98d1e','#d69a20','#e69018','#f7941e','#c65a2a','#bd661e','#a95e28','#bb681c','#a85c20','#d58c40','#e9a535','#d88440','#d69e3e','#cf7f3e','#8f4400','#c4ae00','#df1a3a','#dd2440','#d4a45a','#56595d'
];

// Heavier borders between sections, and the heaviest between top level categories
const sectionLines = [
  [8,153,551,250,828,298,848,398],[865,8,875,133,1003,150],[875,133,828,298],[727,433,745,530],[745,530,16,1232],[745,530,1423,788],[1351,1560,1388,1425,1462,1100],[1502,1402,1560,1400]
];
const categoryLines = [
  [1015,8,1003,130,990,365,8,610],[990,365,1418,722,1462,1100,1502,1402,1428,1560],[1418,722,1560,672]
];

// Labels, one entry per text line
const labelTexts = ['Not','mapped','Photosynthesis-','antenna','proteins','Ribosome','tRNA','loading','Chaperones','and folding','catalysts','Peptidases','RNA','degradation','RNA','polymerase',
  'DNA','replication','control','Protein','export','DNA','replication','complex','Chromosome-','related','Mismatch','repair','Homologous','recombination','Nucleotide','excision','repair','Base','excision','repair',
  'DNA repair and','recombination proteins','Pentose','phosphate','metabolism','Carbohydrate','metabolism','TCA cycle','and','anaplerotic','enzymes','Other','central','metabolism','enzymes','Glycolysis',
  'Oxidative','phosphorylation','Photosynthesis','Carbon fixation in','photosynthetic organisms','Transport','Two-','component','system','Bacterial','motility','proteins','Cytoskeleton','proteins',
  'Methane','metabolism','Other','enzymes','Lipid and','steroid','metabolism','Glycan','metabolism','Purine','metabolism','Amino acid','metabolism','Cofactor','biosynthesis','Pyrimidine','metabolism','Translation','factors','Sulfur','relay','system'];
const labelXs = [1307,1302,590,593,597,319,685,678,653,656,656,356,118,115,941,938,931,929,930,812,812,853,853,853,878,878,981,981,959,959,932,932,932,982,982,982,865,865,817,817,817,968,968,965,965,965,965,1061,1061,1061,1061,1142,
  882,881,1232,1229,1229,1444,1507,1507,1507,1509,1509,1509,1546,1546,1369,1369,35,35,53,54,54,140,140,140,139,350,350,591,591,710,711,66,67,19,19,19];
const labelYs = [245,340,1195,1275,1350,336,338,381,83,120,157,110,86,109,63,81,199,217,235,244,254,261,265,269,323,332,317,320,332,335,359,364,369,357,360,363,385,388,464,483,501,438,452,532,546,560,574,468,473,478,484,614,
  681,712,1038,1498,1513,1403,958,973,988,1477,1488,1498,1535,1539,1444,1446,1439,1450,1110,1122,1135,1078,1084,852,886,638,676,541,562,471,476,472,488,23,29,34];
const labelSizes = [92,92,77.2,77.2,77.2,68.6,41.7,41.7,36.7,36.7,36.7,36.2,23.2,23.2,16.8,16.8,17.5,17.5,17.5,9,9,4,4,4,9.3,9.3,3,3,3.2,3.2,4.8,4.8,4.8,2.6,2.6,2.6,3,3,18.6,18.6,18.6,14.6,14.6,14.4,14.4,14.4,14.4,5,5,5,5,33.7,
  30.7,30.7,40.4,14.4,14.4,15.3,14.3,14.3,14.3,11.1,11.1,11.1,4,4,2.4,2.4,10.3,10.3,12.6,12.6,12.6,5.3,5.3,34,34,37.9,37.9,21.8,21.8,6.3,6.3,16.5,16.5,5.4,5.4,5.4];

const cellTables = [
  [notMappedCells, notMappedFills], [topBlueCells, topBlueFills], [dnaCells, dnaFills], [trnaCells, trnaFills], [ribosomeCells, ribosomeFills], [translationCells, translationFills],
  [aminoCells, aminoFills], [cofactorCells, cofactorFills], [pyrimidineCells, pyrimidineFills], [purineCells, purineFills], [glycanCells, glycanFills], [lipidCells, lipidFills],
  [pentoseCells, pentoseFills], [carbohydrateCells, carbohydrateFills], [otherCentralCells, otherCentralFills], [tcaCells, tcaFills], [glycolysisCells, glycolysisFills], [oxidativeCells, oxidativeFills],
  [antennaCells, antennaFills], [photosynthesisCells, photosynthesisFills], [fixationCells, fixationFills], [transportCells, transportFills], [twoComponentCells, twoComponentFills],
  [motilityCells, motilityFills], [otherEnzymeCells, otherEnzymeFills]
];

function toPoints(flat, closed) {
  const pts = [];
  for (let i = 0; i < flat.length; i += 2) pts.push({ x: flat[i], y: flat[i + 1] });
  if (closed) pts.push({ x: flat[0], y: flat[1] });
  return pts;
}

const datasets = [];
function addShape(flat, closed, fillColor, lineColor, lineWidth) {
  datasets.push({
    data: toPoints(flat, closed),
    showLine: true,
    pointRadius: 0,
    fill: fillColor ? 'shape' : false,
    backgroundColor: fillColor || 'transparent',
    borderColor: lineColor,
    borderWidth: lineWidth,
    borderJoinStyle: 'round',
    borderCapStyle: 'round',
    tension: 0,
    order: -datasets.length
  });
}

// group colour first so gaps between cells read as part of the group
groupOutlines.forEach((o, i) => addShape(o, true, groupFills[i], 'transparent', 0));
cellTables.forEach(([cells, fills]) => {
  cells.forEach((c, i) => addShape(c, true, fills[i] || fills[0], '#000', 1.4));
});
seamLines.forEach(s => addShape(s, false, null, 'rgba(0,0,0,0.4)', 1.2));
groupOutlines.forEach(o => addShape(o, true, null, '#000', 3.2));
sectionLines.forEach(l => addShape(l, false, null, '#000', 5));
categoryLines.forEach(l => addShape(l, false, null, '#000', 7.5));
addShape([0,0,1568,0,1568,1568,0,1568], true, null, '#000', 26);

const labelPlugin = {
  id: 'cellLabels',
  afterDatasetsDraw(chart) {
    const { ctx, scales } = chart;
    const unit = scales.x.width / 1568;
    ctx.save();
    ctx.textAlign = 'center';
    ctx.textBaseline = 'alphabetic';
    labelTexts.forEach((text, i) => {
      const size = labelSizes[i] * unit;
      const x = scales.x.getPixelForValue(labelXs[i]);
      const y = scales.y.getPixelForValue(labelYs[i]) + size * 0.34;
      const off = Math.max(0.7, Math.min(2.2, size * 0.03));
      ctx.font = 'bold ' + size + 'px "DejaVu Sans"';
      ctx.fillStyle = '#000';
      ctx.fillText(text, x + off, y + off);
      ctx.fillStyle = '#fff';
      ctx.fillText(text, x, y);
    });
    ctx.restore();
  }
};

new Chart(document.getElementById('chart'), {
  type: 'scatter',
  data: { datasets },
  plugins: [labelPlugin],
  options: {
    responsive: false,
    animation: false,
    devicePixelRatio: 1,
    events: [],
    layout: { padding: 0 },
    plugins: { legend: { display: false }, tooltip: { enabled: false } },
    scales: {
      x: { type: 'linear', min: 0, max: 1568, display: false },
      y: { type: 'linear', min: 0, max: 1568, reverse: true, display: false }
    }
  }
});
</script>
</body>
</html>
